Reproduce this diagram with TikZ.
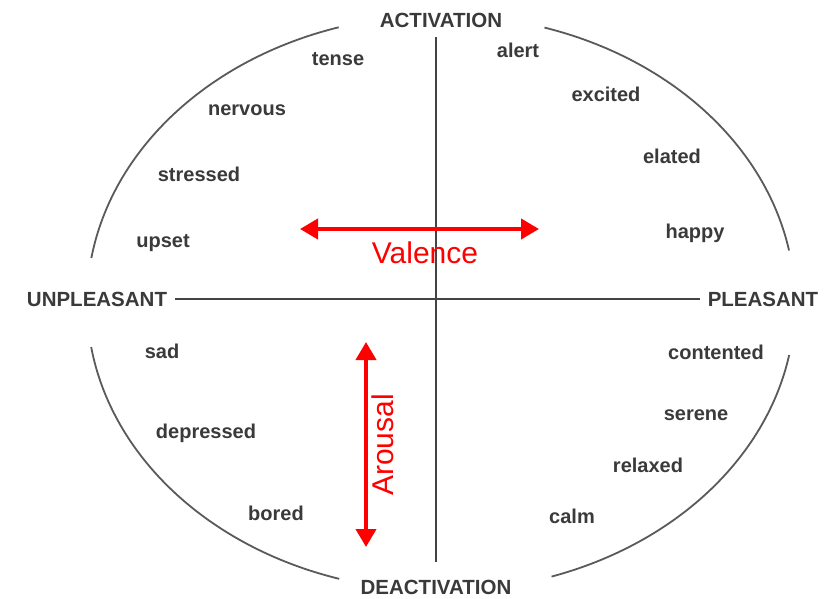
\documentclass[tikz,border=0pt]{standalone}
\usepackage{fontspec}
\setmainfont{Liberation Sans}
\usetikzlibrary{arrows.meta}
\definecolor{ink}{HTML}{3A3A3A}
\definecolor{rim}{HTML}{5A5A5A}
\definecolor{axis}{HTML}{444444}
\definecolor{vred}{HTML}{FF0000}
\tikzset{
  word/.style={text=ink,font=\bfseries\fontsize{20}{20}\selectfont,inner sep=0pt},
  pole/.style={text=ink,font=\bfseries\fontsize{20.5}{20.5}\selectfont,inner sep=0pt},
  rimline/.style={draw=rim,line width=1.8pt},
  axisline/.style={draw=axis,line width=2pt},
  redarrow/.style={draw=vred,line width=4pt,{Triangle[length=18pt,width=20pt]}-{Triangle[length=18pt,width=20pt]}},
  redlabel/.style={text=vred,font=\fontsize{30}{30}\selectfont,inner sep=0pt}
}
\begin{document}
\begin{tikzpicture}[x=1pt,y=-1pt]
\useasboundingbox[fill=white] (0,0) rectangle (833,599);
% ellipse arcs (centre 441,303; a=354, b=288)
\draw[rimline] (441,303) ++({354*cos(10.5)},{-288*sin(10.5)}) arc[start angle=-10.5,end angle=-73,x radius=354,y radius=288];
\draw[rimline] (441,303) ++({354*cos(106.8)},{-288*sin(106.8)}) arc[start angle=-106.8,end angle=-171,x radius=354,y radius=288];
\draw[rimline] (441,303) ++({354*cos(188.8)},{-288*sin(188.8)}) arc[start angle=-188.8,end angle=-253.3,x radius=354,y radius=288];
\draw[rimline] (441,303) ++({354*cos(288.2)},{-288*sin(288.2)}) arc[start angle=-288.2,end angle=-349.6,x radius=354,y radius=288];
% pole labels
\node[pole] (act) at (441,20) {ACTIVATION};
\node[pole] (deact) at (436,587) {DEACTIVATION};
\node[pole] (unpl) at (97,299) {UNPLEASANT};
\node[pole] (pl) at (763,299) {PLEASANT};
% axes
\coordinate (vt) at (436,37);
\coordinate (vb) at (436,562);
\coordinate (hl) at (175,299);
\coordinate (hr) at (700,299);
\draw[axisline] (vt) -- (vb);
\draw[axisline] (hl) -- (hr);
% words
\node[word] (tense) at (338,59) {tense};
\node[word] (nervous) at (247,110) {nervous};
\node[word] (stressed) at (199,174) {stressed};
\node[word] (upset) at (163,243) {upset};
\node[word] (alert) at (518,50) {alert};
\node[word] (excited) at (606,94) {excited};
\node[word] (elated) at (672,156) {elated};
\node[word] (happy) at (695,233) {happy};
\node[word] (sad) at (162,351) {sad};
\node[word] (depressed) at (206,433) {depressed};
\node[word] (bored) at (276,513) {bored};
\node[word] (contented) at (716,352) {contented};
\node[word] (serene) at (696,415) {serene};
\node[word] (relaxed) at (648,465) {relaxed};
\node[word] (calm) at (572,516) {calm};
% red arrows
\coordinate (vl) at (300,229);
\coordinate (vr) at (539,229);
\draw[redarrow] (vl) -- (vr);
\node[redlabel] (valence) at (425,253) {Valence};
\coordinate (au) at (366,342);
\coordinate (ad) at (366,547);
\draw[redarrow] (au) -- (ad);
\node[redlabel,rotate=90] (arousal) at (383,445) {Arousal};
\end{tikzpicture}
\end{document}
